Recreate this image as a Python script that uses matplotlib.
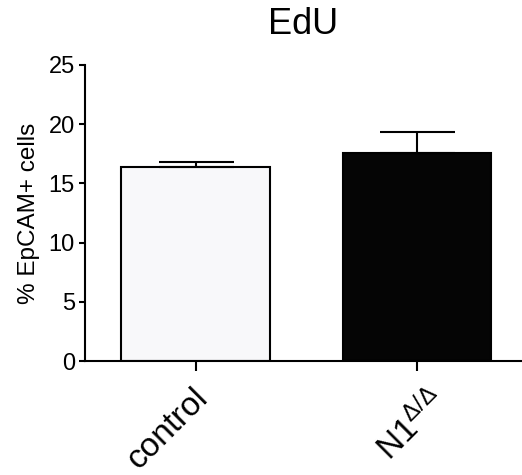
import matplotlib
matplotlib.use("Agg")
import matplotlib.pyplot as plt

plt.rcParams['font.family'] = ['Liberation Sans', 'DejaVu Sans']
plt.rcParams['mathtext.fontset'] = 'custom'
plt.rcParams['mathtext.rm'] = 'Liberation Sans'
plt.rcParams['mathtext.it'] = 'Liberation Sans'

categories = ["control", r"N1$^{\Delta/\Delta}$"]
means = [16.41, 17.54]
sems = [0.42, 1.80]
colors = ["#f8f8fa", "#050505"]
yticks = [0, 5, 10, 15, 20, 25]

fig = plt.figure(figsize=(5.22, 4.75), dpi=100)
ax = fig.add_axes([0.1628, 0.24, 0.8372, 0.6232])

x = list(range(len(categories)))
lw = 1.5
ax.bar(x, means, width=0.674, color=colors, edgecolor="#000000", linewidth=lw, zorder=2)
ax.errorbar(x, means, yerr=[[0] * len(sems), sems], fmt="none", ecolor="#000000",
            elinewidth=lw, capsize=27, capthick=lw, zorder=3)

ax.set_xlim(-0.502, 1.475)
ax.set_ylim(0, 25)
ax.set_yticks(yticks)
ax.set_yticklabels([str(t) for t in yticks], fontsize=17)
ax.set_xticks(x)
ax.set_xticklabels([])

# rotated category labels (pixel offsets from the tick position)
offsets = [(-4, -21), (10, -22)]
for xi, lab, (dx, dy) in zip(x, categories, offsets):
    ax.annotate(lab, xy=(xi, 0), xycoords=("data", "axes fraction"),
                xytext=(dx, dy), textcoords="offset pixels",
                fontsize=24, rotation=45, ha="right", va="top",
                rotation_mode="anchor", annotation_clip=False)

for s in ["top", "right"]:
    ax.spines[s].set_visible(False)
for s in ["left", "bottom"]:
    ax.spines[s].set_linewidth(lw)
ax.tick_params(axis="y", length=4.3, width=lw, pad=3)
ax.tick_params(axis="x", length=7, width=lw, pad=6)

ax.set_ylabel("% EpCAM+ cells", fontsize=17.5, labelpad=6)
ax.set_title("EdU", fontsize=26, pad=22)

fig.savefig("out.png", dpi=100)
